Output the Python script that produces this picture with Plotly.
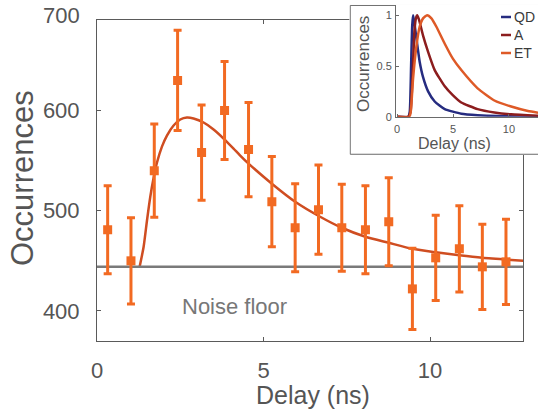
import plotly.graph_objects as go

# ---------------- data ----------------
delay_ns = [0.32, 1.02, 1.72, 2.42, 3.14, 3.83, 4.55, 5.25, 5.95, 6.65,
            7.35, 8.06, 8.76, 9.47, 10.17, 10.88, 11.57, 12.28]
occurrences = [481, 450, 540, 630, 558, 600, 561, 509, 483, 501,
               483, 481, 489, 422, 453, 462, 444, 449]
occ_err = [44, 43, 46.5, 50, 47.5, 49, 47, 45, 44, 44.5,
           43.5, 44, 44, 40.5, 42.5, 43, 42.5, 42.5]

fit_x = [1.28, 1.40, 1.50, 1.60, 1.70, 1.80, 1.95, 2.10, 2.30, 2.50, 2.70,
         2.90, 3.20, 3.50, 3.80, 4.10, 4.30, 4.55, 5.25, 5.95, 6.70, 7.35,
         8.06, 8.76, 9.47, 10.17, 10.88, 11.57, 12.8]
fit_y = [444, 464, 490, 514, 533, 548, 564, 575, 585, 591, 593,
         592, 588, 581, 572, 562, 555, 547, 527, 509, 494, 483,
         474, 468, 462, 458.5, 455.5, 453, 450]

noise_floor = 444
x_range = [0, 12.8]
y_range = [370, 690]

# inset curves
qd_x = [0, 1.0, 1.13, 1.25, 1.35, 1.43, 1.55, 1.73, 2.02, 2.32, 2.77, 3.36,
        4.26, 5.74, 7.2, 9.0, 12.6]
qd_y = [0, 0, 0.05, 0.5, 0.9, 1.0, 0.92, 0.77, 0.54, 0.39, 0.25, 0.15,
        0.075, 0.03, 0.015, 0.006, 0.002]
a_x = [0, 1.0, 1.2, 1.4, 1.55, 1.7, 1.79, 1.95, 2.32, 2.77, 3.36, 4.26, 5.0,
       5.74, 7.2, 8.7, 10.2, 12.6]
a_y = [0, 0, 0.05, 0.45, 0.85, 0.98, 1.0, 0.96, 0.80, 0.64, 0.46, 0.30, 0.21,
       0.14, 0.075, 0.042, 0.024, 0.01]
et_x = [0, 1.1, 1.22, 1.43, 1.73, 2.02, 2.32, 2.68, 3.07, 3.5, 4.26, 5.0,
        5.74, 7.2, 8.7, 10.2, 11.7, 12.6]
et_y = [0, 0, 0.05, 0.38, 0.70, 0.89, 0.97, 1.0, 0.97, 0.89, 0.72, 0.57,
        0.46, 0.28, 0.16, 0.10, 0.056, 0.04]

series_names = ["QD", "A", "ET"]
series_colors = ["#262c80", "#8c1d1e", "#de5a27"]

# ---------------- styling ----------------
FONT = "Liberation Sans, Arial, sans-serif"
AX = "#5a5a5a"
TXT = "#555555"
ORANGE = "#f26a22"
FIT = "#cf4d21"

W, H = 538, 416
ML, MT, MB = 97, 0, 75
PW, PH = W - ML, H - MT - MB


def px_x(px):
    return (px - ML) / PW


def px_y(py):
    return (H - MB - py) / PH


fig = go.Figure()

# main plot
fig.add_trace(go.Scatter(x=fit_x, y=fit_y, mode="lines",
                         line=dict(color=FIT, width=2.5, shape="spline", smoothing=0.6),
                         showlegend=False, xaxis="x", yaxis="y"))
fig.add_trace(go.Scatter(x=x_range, y=[noise_floor, noise_floor], mode="lines",
                         line=dict(color="#7a7a7a", width=2.5),
                         showlegend=False, xaxis="x", yaxis="y"))
fig.add_trace(go.Scatter(x=delay_ns, y=occurrences, mode="markers",
                         marker=dict(symbol="square", size=9, color=ORANGE),
                         error_y=dict(type="data", array=occ_err, color=ORANGE,
                                      thickness=3, width=4),
                         showlegend=False, xaxis="x", yaxis="y"))

# inset white box (helper subplot x2y2)
fig.add_trace(go.Scatter(x=[0, 1.2, 1.2, 0, 0], y=[0, 0, 1, 1, 0], mode="lines",
                         fill="toself", fillcolor="white",
                         line=dict(color="#6a6a6a", width=1),
                         hoverinfo="skip", showlegend=False,
                         xaxis="x2", yaxis="y2"))

# inset curves
for nm, xs, ys, col in zip(series_names, [qd_x, a_x, et_x], [qd_y, a_y, et_y], series_colors):
    fig.add_trace(go.Scatter(x=xs, y=ys, mode="lines", name=nm,
                             line=dict(color=col, width=2.5, shape="spline", smoothing=0.5),
                             showlegend=False, xaxis="x3", yaxis="y3"))

main_axis = dict(showline=True, linecolor=AX, linewidth=1, mirror="ticks",
                 ticks="inside", ticklen=4, tickcolor=AX, showgrid=False,
                 zeroline=False, automargin=False,
                 tickfont=dict(size=22, color=TXT, family=FONT))
inset_axis = dict(showline=True, linecolor="#6a6a6a", linewidth=1, ticks="inside",
                  ticklen=3, tickcolor="#6a6a6a", showgrid=False, zeroline=False,
                  automargin=False, tickfont=dict(size=11, color=TXT, family=FONT))

fig.update_layout(
    width=W, height=H,
    margin=dict(l=ML, r=0, t=MT, b=MB, autoexpand=False),
    paper_bgcolor="white", plot_bgcolor="white",
    font=dict(family=FONT, color=TXT),
    showlegend=False,
    xaxis=dict(main_axis, domain=[0, px_x(523.3)], range=x_range,
               tickvals=[0, 5, 10], ticklabelstandoff=10, anchor="y"),
    yaxis=dict(main_axis, domain=[0, px_y(20.3)], range=y_range,
               tickvals=[400, 500, 600], ticklabelstandoff=12, anchor="x"),
    xaxis2=dict(domain=[px_x(349.3), 1], range=[-0.005, 1], visible=False,
                fixedrange=True, anchor="y2", automargin=False),
    yaxis2=dict(domain=[px_y(155), px_y(4.7)], range=[-0.005, 1.005], visible=False,
                fixedrange=True, anchor="x2", automargin=False),
    xaxis3=dict(inset_axis, domain=[px_x(396), 1], range=[-0.1, 12.6], anchor="y3",
                tickvals=[0, 5, 10], ticklabelstandoff=2),
    yaxis3=dict(inset_axis, domain=[px_y(116.7), px_y(4.7)], range=[0, 1.105], anchor="x3",
                tickvals=[0, 0.5, 1], ticktext=["0", "0.5", "1"], ticklabelstandoff=1),
)

# axis titles
fig.add_annotation(text="Delay (ns)", xref="paper", yref="paper", x=px_x(313), y=px_y(395),
                   xanchor="center", yanchor="middle", showarrow=False,
                   font=dict(size=25, color=TXT, family=FONT))
fig.add_annotation(text="Occurrences", xref="paper", yref="paper", x=px_x(22), y=px_y(178),
                   xanchor="center", yanchor="middle", showarrow=False, textangle=-90,
                   font=dict(size=31, color=TXT, family=FONT))
fig.add_annotation(text="Delay (ns)", xref="paper", yref="paper", x=px_x(454), y=px_y(143),
                   xanchor="center", yanchor="middle", showarrow=False,
                   font=dict(size=16, color=TXT, family=FONT))
fig.add_annotation(text="Occurrences", xref="paper", yref="paper", x=px_x(363), y=px_y(64),
                   xanchor="center", yanchor="middle", showarrow=False, textangle=-90,
                   font=dict(size=17, color=TXT, family=FONT))

# "700" label at top of main y axis, "Noise floor" label
fig.add_annotation(text="700", xref="paper", yref="paper", x=px_x(82), y=px_y(16),
                   xanchor="right", yanchor="middle", showarrow=False,
                   font=dict(size=22, color=TXT, family=FONT))
fig.add_annotation(text="Noise floor", xref="x", yref="y", x=4.12, y=404,
                   xanchor="center", yanchor="middle", showarrow=False,
                   font=dict(size=22, color="#777777", family=FONT))

# inset legend
legend_rows_px = [17, 35, 53]
for nm, col, ry in zip(series_names, series_colors, legend_rows_px):
    fig.add_shape(type="line", xref="paper", yref="paper",
                  x0=px_x(501), x1=px_x(511), y0=px_y(ry), y1=px_y(ry),
                  line=dict(color=col, width=2.5))
    fig.add_annotation(text=nm, xref="paper", yref="paper", x=px_x(511.5), y=px_y(ry),
                       xanchor="left", yanchor="middle", showarrow=False,
                       font=dict(size=14, color="#3a3a3a", family=FONT))

fig.write_html("out.html", config={"displayModeBar": False},
               post_script="document.body.style.margin='0px';document.body.style.overflow='hidden';")
